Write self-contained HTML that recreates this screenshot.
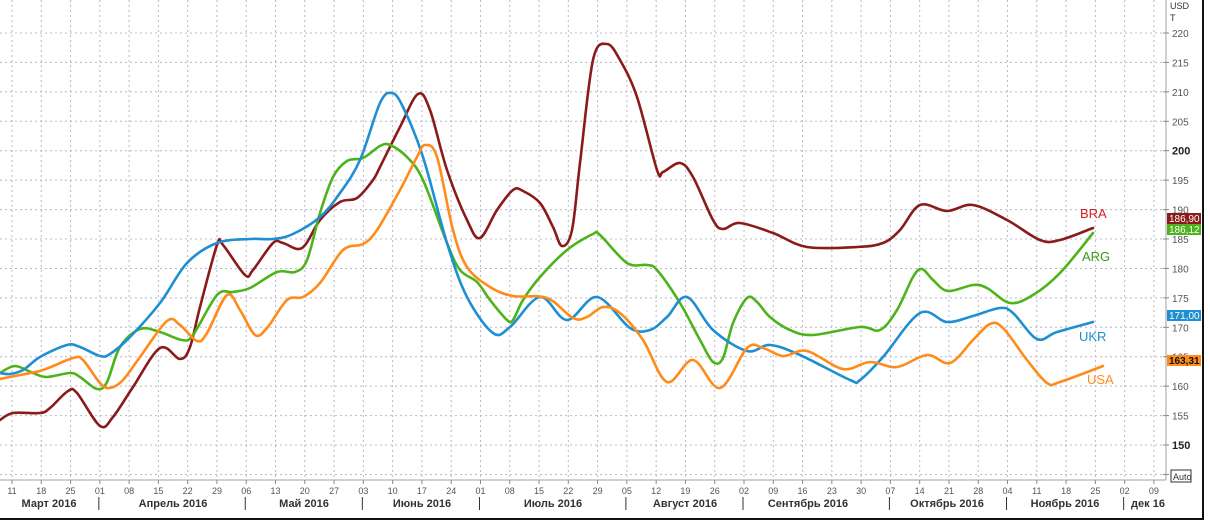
<!DOCTYPE html>
<html><head><meta charset="utf-8"><style>
html,body{margin:0;padding:0;background:#fff;}
svg{display:block;font-family:"Liberation Sans",Arial,sans-serif;}
</style></head><body>
<svg id="c" width="1210" height="532" viewBox="0 0 1210 532" xmlns="http://www.w3.org/2000/svg">
<rect x="0" y="0" width="1210" height="532" fill="#fff"/>
<g id="grid" stroke="#b8b8c8" stroke-width="1" stroke-dasharray="2,3"></g>
<line x1="0" y1="480" x2="1166" y2="480" stroke="#a0a0a8" stroke-width="1"/>
<line x1="1166" y1="0" x2="1166" y2="480" stroke="#a0a0a8" stroke-width="1"/>
<g id="yax" font-size="10" fill="#555"></g>
<text x="1170" y="9" font-size="9" fill="#333">USD</text>
<text x="1170" y="21" font-size="9" fill="#333">T</text>
<rect x="1171" y="470" width="20" height="12" fill="#fff" stroke="#333" stroke-width="1"/>
<text x="1173" y="480" font-size="9" fill="#333">Auto</text>
<g id="xax" font-size="9" fill="#555"></g>
<g font-size="11" font-weight="bold" fill="#333" text-anchor="middle">
<text x="49" y="507">Март 2016</text>
<text x="173" y="507">Апрель 2016</text>
<text x="304" y="507">Май 2016</text>
<text x="422" y="507">Июнь 2016</text>
<text x="553" y="507">Июль 2016</text>
<text x="685" y="507">Август 2016</text>
<text x="808" y="507">Сентябрь 2016</text>
<text x="947" y="507">Октябрь 2016</text>
<text x="1065" y="507">Ноябрь 2016</text>
<text x="1148" y="507">дек 16</text>
</g>
<g id="seps" stroke="#333" stroke-width="1"></g>
<line x1="0" y1="519" x2="1204" y2="519" stroke="#111" stroke-width="2"/>
<line x1="1203" y1="0" x2="1203" y2="520" stroke="#111" stroke-width="2"/>
<g id="lines" fill="none" stroke-width="2.6" stroke-linejoin="round" stroke-linecap="round">
<polyline stroke="#8B1A1A" points="0,420 13,413 40,413 50,408 68,391 77,393 100,426 113,417 133,387 160,348 180,359 190,347 200,307 217,245 223,245 245,275 253,270 273,243 283,243 302,248 320,220 340,202 357,198 373,180 380,167 400,127 418,94 430,110 447,170 467,220 480,238 497,210 513,190 523,191 540,203 553,227 562,246 572,230 580,163 593,60 607,44 620,60 637,97 657,170 663,172 680,163 693,177 713,220 723,229 740,223 773,233 807,247 857,247 883,243 900,230 920,205 947,211 973,205 1007,220 1040,240 1060,240 1093,228"/>
<polyline stroke="#4DB31A" points="0,373 15,366 33,373 47,377 70,373 80,377 97,389 107,382 120,347 140,329 160,332 182,340 193,335 217,295 233,292 250,288 277,272 295,272 307,260 320,213 333,177 347,161 363,158 380,146 390,145 407,157 423,180 447,243 460,270 477,282 490,300 507,320 513,320 523,300 540,277 567,250 593,234 600,235 627,263 647,265 657,270 680,303 700,340 713,362 723,358 733,323 747,298 757,302 770,317 790,330 813,335 860,327 880,330 897,310 913,277 922,269 933,280 948,291 973,285 987,288 1010,303 1033,295 1060,273 1093,233"/>
<polyline stroke="#1E8FD2" points="0,373 10,374 23,370 40,357 67,345 80,347 100,356 110,354 130,337 160,303 187,263 217,243 250,239 273,239 293,234 320,217 340,193 360,160 380,103 392,93 403,107 423,157 447,243 467,297 493,333 510,327 540,297 567,320 597,297 630,328 650,330 667,317 687,297 713,330 747,351 770,345 800,355 850,380 860,380 883,357 920,313 947,322 973,316 1000,308 1013,313 1037,339 1057,332 1093,322"/>
<polyline stroke="#FF8C1A" points="0,379 20,375 43,370 73,358 83,360 100,383 110,388 123,380 140,357 167,321 180,325 197,341 207,333 227,295 240,310 255,335 267,328 287,300 303,297 320,283 343,250 363,244 377,230 400,190 417,157 425,145 437,157 453,230 467,267 490,287 513,296 547,298 573,318 587,317 603,307 620,313 643,340 667,382 693,360 720,388 747,348 763,348 783,356 807,351 843,369 870,362 897,367 927,355 950,363 973,340 990,324 1003,328 1027,360 1047,383 1060,382 1103,366"/>
</g>
<g font-size="13">
<text x="1080" y="218" fill="#D42020">BRA</text>
<text x="1082" y="261" fill="#3A9A1A">ARG</text>
<text x="1079" y="341" fill="#1E8FD2">UKR</text>
<text x="1087" y="384" fill="#FF8C1A">USA</text>
</g>
<g font-size="10">
<rect x="1167" y="213" width="34" height="11" fill="#8B1A1A"/><text x="1169" y="222" fill="#fff">186,90</text>
<rect x="1167" y="224" width="34" height="11" fill="#4DB31A"/><text x="1169" y="233" fill="#fff">186,12</text>
<rect x="1167" y="310" width="34" height="11" fill="#1E8FD2"/><text x="1169" y="319" fill="#fff">171,00</text>
<rect x="1167" y="355" width="34" height="11" fill="#FF8C1A"/><text x="1169" y="364" fill="#111" font-weight="bold">163,31</text>
</g>
</svg>
<script>
(function(){
var NS="http://www.w3.org/2000/svg";
function el(p,t,a,txt){var e=document.createElementNS(NS,t);for(var k in a)e.setAttribute(k,a[k]);if(txt!=null)e.textContent=txt;p.appendChild(e);return e;}
var g=document.getElementById('grid'),y=document.getElementById('yax'),x=document.getElementById('xax'),s=document.getElementById('seps');
for(var v=220;v>=145;v-=5){var yy=33+(220-v)*5.886;el(g,'line',{x1:0,y1:yy,x2:1166,y2:yy});
el(y,'line',{x1:1163,y1:yy,x2:1169,y2:yy,stroke:'#888'});
if(v>=150){var b=(v==200||v==150);el(y,'text',{x:1172,y:yy+4,'font-weight':b?'bold':'normal',fill:b?'#222':'#555','font-size':b?11:10},String(v));}}
var d=["11","18","25","01","08","15","22","29","06","13","20","27","03","10","17","24","01","08","15","22","29","05","12","19","26","02","09","16","23","30","07","14","21","28","04","11","18","25","02","09"];
var sep=[3,8,12,16,21,25,30,34,38];
for(var i=0;i<d.length;i++){var xx=12+i*29.28;el(g,'line',{x1:xx,y1:0,x2:xx,y2:480});
el(x,'line',{x1:xx,y1:480,x2:xx,y2:484,stroke:'#888'});
el(x,'text',{x:xx,y:494,'text-anchor':'middle'},d[i]);}
for(var j=0;j<sep.length;j++){var sx=12+sep[j]*29.28-1;el(s,'line',{x1:sx,y1:497,x2:sx,y2:510});}
var L=document.getElementById('lines');var pls=L.querySelectorAll('polyline');
for(var q=0;q<pls.length;q++){var pl=pls[q];var pts=pl.getAttribute('points').trim().split(/\s+/).map(function(t){return t.split(',').map(Number);});
var dd='M'+pts[0][0]+','+pts[0][1];
for(var k=0;k<pts.length-1;k++){var p0=pts[k-1]||pts[k],p1=pts[k],p2=pts[k+1],p3=pts[k+2]||p2;var t=6;
var c1x=p1[0]+(p2[0]-p0[0])/t,c1y=p1[1]+(p2[1]-p0[1])/t,c2x=p2[0]-(p3[0]-p1[0])/t,c2y=p2[1]-(p3[1]-p1[1])/t;
dd+=' C'+c1x.toFixed(1)+','+c1y.toFixed(1)+' '+c2x.toFixed(1)+','+c2y.toFixed(1)+' '+p2[0]+','+p2[1];}
el(L,'path',{d:dd,stroke:pl.getAttribute('stroke')});L.removeChild(pl);}
})();
</script>
</body></html>
